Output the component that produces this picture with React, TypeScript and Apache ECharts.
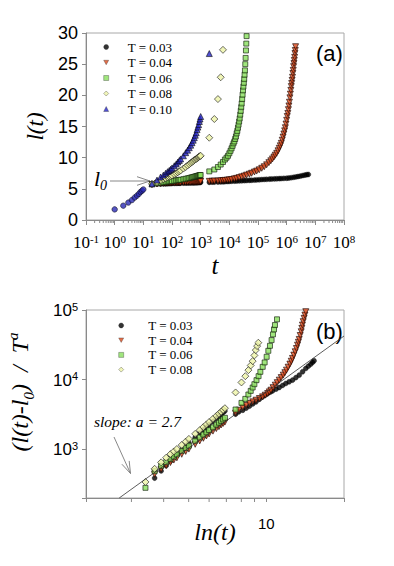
import React, { useEffect, useRef } from 'react';
import * as echarts from 'echarts';

const SERIF = '"Liberation Serif", "Times New Roman", serif';
const SANS = '"Liberation Sans", Arial, Helvetica, sans-serif';

// ---------------- Legend names ----------------
const namesA = ['T = 0.03', 'T = 0.04', 'T = 0.06', 'T = 0.08', 'T = 0.10'];
const namesB = ['T = 0.03', 'T = 0.04', 'T = 0.06', 'T = 0.08'];

// ---------------- Panel (a): l(t) vs t ----------------
const tEarly = [1, 2, 3, 4, 5, 6, 7, 8, 9, 10];
const lEarly = [1.7, 2.3, 2.8, 3.2, 3.6, 3.9, 4.2, 4.5, 4.7, 4.9];

const tDense = [20, 30, 40, 50, 60, 70, 80, 90, 100, 120, 140, 160, 180, 200, 250, 300, 350, 400, 450, 500, 550, 600, 650, 700, 750, 800, 850, 900, 950, 1000];
const lDense03 = [5.7, 5.75, 5.78, 5.8, 5.82, 5.83, 5.84, 5.85, 5.86, 5.87, 5.88, 5.89, 5.9, 5.91, 5.92, 5.93, 5.94, 5.95, 5.96, 5.97, 5.97, 5.98, 5.99, 6.0, 6.0, 6.01, 6.02, 6.03, 6.04, 6.05];
const lDense04 = [5.7, 5.8, 5.85, 5.88, 5.9, 5.92, 5.93, 5.95, 5.96, 5.98, 6.0, 6.01, 6.02, 6.03, 6.05, 6.07, 6.09, 6.1, 6.11, 6.12, 6.13, 6.14, 6.15, 6.16, 6.17, 6.18, 6.18, 6.19, 6.2, 6.2];
const lDense06 = [5.75, 5.9, 6.0, 6.05, 6.1, 6.15, 6.2, 6.22, 6.25, 6.3, 6.35, 6.4, 6.43, 6.46, 6.55, 6.62, 6.68, 6.74, 6.8, 6.85, 6.9, 6.94, 6.98, 7.02, 7.06, 7.1, 7.13, 7.16, 7.19, 7.22];
const lDense08 = [5.8, 6.1, 6.35, 6.55, 6.7, 6.85, 6.95, 7.05, 7.15, 7.35, 7.5, 7.65, 7.8, 7.95, 8.25, 8.5, 8.75, 8.95, 9.15, 9.3, 9.45, 9.6, 9.7, 9.8, 9.9, 10.0, 10.1, 10.2, 10.25, 10.3];
const lDense10 = [5.8, 6.4, 6.9, 7.2, 7.5, 7.75, 7.95, 8.15, 8.35, 8.7, 9.0, 9.3, 9.55, 9.8, 10.3, 10.8, 11.2, 11.6, 12.0, 12.4, 12.8, 13.2, 13.6, 14.0, 14.5, 14.9, 15.3, 15.8, 16.2, 16.6];

const tLate03 = [2000, 2500, 3000, 4000, 5000, 6000, 7000, 8500, 10000, 12000, 15000, 18000, 22000, 27000, 33000, 40000, 50000, 60000, 75000, 90000, 110000, 135000, 165000, 200000, 250000, 300000, 370000, 450000, 550000, 650000, 800000, 1000000, 1200000, 1450000, 1750000, 2100000, 2500000, 3000000, 3600000, 4300000, 5000000, 5700000];
const lLate03 = [6.05, 6.07, 6.08, 6.1, 6.12, 6.13, 6.15, 6.17, 6.2, 6.22, 6.24, 6.26, 6.28, 6.3, 6.32, 6.34, 6.36, 6.38, 6.41, 6.43, 6.46, 6.49, 6.51, 6.53, 6.56, 6.58, 6.6, 6.62, 6.64, 6.65, 6.68, 6.7, 6.74, 6.79, 6.85, 6.91, 6.98, 7.05, 7.13, 7.2, 7.27, 7.3];

const tLate04 = [2000, 2500, 3000, 4000, 5000, 6000, 7000, 8500, 10000, 12000, 15000, 18000, 22000, 27000, 33000, 40000, 50000, 60000, 75000, 90000, 110000, 135000, 165000, 200000, 240000, 280000, 320000, 360000, 400000, 450000, 500000, 550000, 600000, 650000, 700000, 750000, 800000, 850000, 900000, 950000, 1000000, 1050000, 1100000, 1150000, 1200000, 1250000, 1300000, 1350000, 1400000, 1450000, 1500000, 1550000, 1600000, 1650000, 1700000, 1750000, 1800000, 1850000, 1900000, 1950000, 2000000, 2050000];
const lLate04 = [6.2, 6.22, 6.25, 6.27, 6.3, 6.33, 6.36, 6.4, 6.45, 6.5, 6.6, 6.68, 6.8, 6.92, 7.05, 7.2, 7.35, 7.5, 7.7, 7.85, 8.05, 8.3, 8.55, 8.85, 9.2, 9.5, 9.8, 10.1, 10.4, 10.7, 11.1, 11.5, 11.9, 12.3, 12.8, 13.3, 13.8, 14.3, 14.8, 15.4, 16.0, 16.6, 17.1, 17.7, 18.3, 18.9, 19.6, 20.2, 20.8, 21.4, 21.9, 22.4, 22.9, 23.5, 24.0, 24.6, 25.1, 25.6, 26.1, 26.7, 27.2, 27.8];

const tLate06 = [2000, 3000, 4000, 5000, 6000, 7000, 8000, 9000, 10000, 11000, 12000, 13000, 14000, 15000, 16000, 17000, 18000, 19000, 20000, 21000, 22000, 23000, 24000, 25000, 26000, 27000, 28000, 29000, 30000, 31000, 32000, 33000, 34000, 35000, 36000, 37000, 38000, 39000, 40000];
const lLate06 = [7.8, 8.1, 8.5, 8.9, 9.3, 9.7, 10.0, 10.3, 10.7, 11.1, 11.5, 11.9, 12.3, 12.6, 13.0, 13.4, 13.9, 14.3, 14.8, 15.3, 15.8, 16.3, 16.9, 17.5, 18.1, 18.7, 19.4, 20.1, 20.8, 21.4, 22.0, 22.6, 23.3, 24.0, 25.0, 26.0, 27.2, 28.3, 29.5];

const tLate08 = [2000, 3000, 4000, 5000, 6000];
const lLate08 = [13.2, 16.2, 19.4, 22.9, 27.3];

const tLate10 = [2000];
const lLate10 = [26.7];

// ---------------- Panel (b): (l(t)-l0)/T^a vs ln(t) ----------------
const xDenseB = [3.40, 3.69, 3.91, 4.09, 4.25, 4.38, 4.50, 4.70, 4.87, 5.01, 5.30, 5.52, 5.70, 5.86, 6.00, 6.21, 6.40, 6.55, 6.68, 6.80, 6.91];
const xDenseB2 = [3.69, 3.91, 4.09, 4.25, 4.38, 4.50, 4.70, 4.87, 5.01, 5.30, 5.52, 5.70, 5.86, 6.00, 6.21, 6.40, 6.55, 6.68, 6.80, 6.91];
const yDense08 = [340, 525, 650, 758, 853, 932, 1010, 1155, 1289, 1411, 1667, 1886, 2086, 2278, 2462, 2736, 3008, 3243, 3463, 3680, 3891];
const yDense06 = [280, 485, 578, 653, 724, 785, 845, 951, 1046, 1129, 1327, 1480, 1629, 1754, 1887, 2070, 2265, 2412, 2565, 2691, 2834];
const yDense04 = [437, 516, 583, 646, 701, 754, 849, 934, 1008, 1180, 1320, 1440, 1555, 1660, 1825, 1985, 2115, 2235, 2350, 2460];
const yDense03 = [386, 490, 583, 678, 771, 852, 985, 1121, 1240, 1479, 1703, 1901, 2078, 2248, 2502, 2754, 2973, 3178, 3358, 3555];

const xLate08B = [7.60, 8.01, 8.29, 8.52, 8.70, 8.85, 8.99, 9.10, 9.21, 9.31];
const yLate08B = [6550, 9120, 11220, 13700, 16000, 18450, 22300, 26550, 30300, 33900];

const xLate06B = [7.60, 8.01, 8.29, 8.52, 8.70, 8.85, 8.99, 9.16, 9.33, 9.48, 9.68, 9.85, 10.03, 10.18, 10.33, 10.48, 10.61, 10.71, 10.80, 11.0];
const yLate06B = [3725, 4640, 5300, 6120, 6900, 7720, 8610, 9840, 11230, 12950, 15280, 17660, 21280, 25960, 30620, 36980, 44660, 52700, 60800, 73500];

const xLate04B = [7.6, 7.82, 8.10, 8.35, 8.60, 8.86, 9.12, 9.40, 9.67, 9.90, 10.12, 10.27, 10.42, 10.62, 10.83, 11.02, 11.22, 11.42, 11.63, 11.80, 11.97, 12.15, 12.34, 12.49, 12.63, 12.78, 12.94, 13.08, 13.21, 13.31, 13.41, 13.53, 13.65, 13.73, 13.80, 13.90, 14.01, 14.11, 14.22];
const yLate04B = [3300, 3640, 3980, 4250, 4540, 4800, 5070, 5360, 5660, 5990, 6330, 6680, 7060, 7680, 8340, 9060, 9840, 10700, 11610, 12600, 13700, 15100, 16720, 18400, 20170, 22500, 25120, 28000, 31300, 34400, 37830, 43000, 48700, 54500, 60800, 68000, 75900, 84500, 94600];

const xLate03B = [7.6, 7.82, 8.10, 8.35, 8.60, 8.86, 9.12, 9.40, 9.67, 9.90, 10.12, 10.35, 10.57, 10.90, 11.22, 11.56, 11.90, 12.26, 12.63, 13.02, 13.41, 13.82, 14.22, 14.55, 14.87, 15.1, 15.31];
const yLate03B = [3200, 3450, 3640, 3900, 4160, 4480, 4800, 5230, 5660, 6000, 6330, 6620, 6900, 7300, 7720, 8270, 8820, 9330, 9840, 10700, 11610, 13000, 14490, 15600, 16720, 17700, 18660];

// slope a = 2.7 reference line endpoints
const slopeX = [2.69, 20];
const slopeY = [200, 42300];

// ---------------- helpers ----------------
const zip = (xs: number[], ys: number[]) => xs.map((x, i) => [x, ys[i]]);

const STY: Record<string, any> = {
  'T = 0.03': { symbol: 'circle', legendIcon: 'circle', symbolSize: 5, symbolRotate: 0, itemStyle: { color: '#000000', borderColor: '#000', borderWidth: 0.4 } },
  'T = 0.04': { symbol: 'triangle', legendIcon: 'path://M0,0L10,0L5,9Z', symbolSize: 6, symbolRotate: 180, itemStyle: { color: '#dc4a1c', borderColor: '#1a0500', borderWidth: 0.8 } },
  'T = 0.06': { symbol: 'rect', legendIcon: 'rect', symbolSize: 5, symbolRotate: 0, itemStyle: { color: '#88e05c', borderColor: '#0c1a06', borderWidth: 0.8 } },
  'T = 0.08': { symbol: 'diamond', legendIcon: 'diamond', symbolSize: 7, symbolRotate: 0, itemStyle: { color: '#edf4a6', borderColor: '#1a1a1a', borderWidth: 0.8 } },
  'T = 0.10': { symbol: 'triangle', legendIcon: 'triangle', symbolSize: 6, symbolRotate: 0, itemStyle: { color: '#2626c8', borderColor: '#000', borderWidth: 0.7 } },
};

const sc = (name: string, data: number[][], grid: number) => {
  const sty = STY[name];
  return {
    type: 'scatter',
    name,
    xAxisIndex: grid,
    yAxisIndex: grid,
    data,
    symbol: sty.symbol,
    symbolSize: sty.symbolSize,
    symbolRotate: sty.symbolRotate,
    itemStyle: sty.itemStyle,
    silent: true,
    clip: true,
  };
};

const axisGray = '#8a8a8a';

function buildOption(): any {
  const supRich = (font: string, size: number) => ({
    b: { fontFamily: font, fontSize: size, color: '#000', verticalAlign: 'bottom' },
    s: { fontFamily: font, fontSize: Math.round(size * 0.64), color: '#000', verticalAlign: 'bottom', padding: [0, 0, 7, 0] },
  });
  const legendText = (lh: number, pad: number) => ({
    fontFamily: SERIF, fontSize: 13, color: '#000', lineHeight: lh, padding: [0, 0, 0, pad],
  });
  const legendData = (names: string[]) =>
    names.map((n) => ({
      name: n,
      icon: STY[n].legendIcon,
      itemStyle: { color: STY[n].itemStyle.color, borderColor: '#222', borderWidth: 0.4 },
    }));
  const mT = { fontFamily: SERIF, fontStyle: 'italic', fontSize: 24, color: '#000', verticalAlign: 'bottom' };
  return {
    animation: false,
    backgroundColor: '#ffffff',
    grid: [
      { left: 86, top: 33, width: 258, height: 187, show: true, borderColor: '#a8a8a8', borderWidth: 1, outerBoundsMode: 'none', containLabel: false },
      { left: 86, top: 310, width: 258, height: 188, show: true, borderColor: '#a8a8a8', borderWidth: 1, outerBoundsMode: 'none', containLabel: false },
    ],
    xAxis: [
      {
        type: 'log', gridIndex: 0, logBase: 10, min: 0.1, max: 1e8,
        axisLine: { show: true, lineStyle: { color: axisGray } },
        axisTick: { show: true, length: 5, lineStyle: { color: axisGray } },
        splitLine: { show: false },
        axisLabel: {
          margin: 13,
          formatter: (v: number) => `{b|10}{s|${Math.round(Math.log10(v))}}`,
          rich: supRich(SERIF, 17),
        },
        name: 't', nameLocation: 'middle', nameGap: 33, nameMoveOverlap: false,
        nameTextStyle: { fontFamily: SERIF, fontStyle: 'italic', fontSize: 25, color: '#000' },
      },
      {
        type: 'log', gridIndex: 1, logBase: 10, min: 2, max: 20,
        axisLine: { show: true, lineStyle: { color: axisGray } },
        axisTick: { show: true, length: 4, lineStyle: { color: axisGray } },
        splitLine: { show: false },
        axisLabel: {
          margin: 18, fontFamily: SANS, fontSize: 15, color: '#000',
          formatter: (v: number) => (Math.abs(v - 10) < 1e-6 ? '10' : ''),
        },
        name: 'ln(t)', nameLocation: 'middle', nameGap: 22, nameMoveOverlap: false,
        nameTextStyle: { fontFamily: SERIF, fontStyle: 'italic', fontSize: 24, color: '#000' },
      },
    ],
    yAxis: [
      {
        type: 'value', gridIndex: 0, min: 0, max: 30, interval: 5,
        axisLine: { show: true, lineStyle: { color: axisGray } },
        axisTick: { show: true, length: 4, lineStyle: { color: axisGray } },
        splitLine: { show: false },
        axisLabel: { margin: 8, fontFamily: SANS, fontSize: 18, color: '#000' },
        name: 'l(t)', nameLocation: 'middle', nameRotate: 90, nameGap: 39, nameMoveOverlap: false,
        nameTextStyle: { fontFamily: SERIF, fontStyle: 'italic', fontSize: 23, color: '#000' },
      },
      {
        type: 'log', gridIndex: 1, logBase: 10, min: 200, max: 1e5,
        axisLine: { show: true, lineStyle: { color: axisGray } },
        axisTick: { show: true, length: 4, lineStyle: { color: axisGray } },
        splitLine: { show: false },
        axisLabel: {
          margin: 8,
          formatter: (v: number) => {
            const e = Math.log10(v);
            return Math.abs(e - Math.round(e)) < 1e-6 ? `{b|10}{s|${Math.round(e)}}` : '';
          },
          rich: supRich(SANS, 17),
        },
        name: '{f|(}{m|l(t)-l}{sub|0}{m|)  /  T}{sup|a}', nameLocation: 'middle', nameRotate: 90, nameGap: 50,
        nameMoveOverlap: false,
        nameTextStyle: {
          fontFamily: SERIF, fontStyle: 'italic', fontSize: 24, color: '#000',
          rich: {
            f: { ...mT, padding: [0, 0, 4, 24] },
            m: { ...mT, padding: [0, 0, 4, 0] },
            sub: { ...mT, fontSize: 15, padding: [0, 0, 0, 0] },
            sup: { ...mT, fontSize: 15, padding: [0, 0, 16, 0] },
          },
        },
      },
    ],
    legend: [
      {
        orient: 'vertical', left: 103.5, top: 39.5, padding: 0,
        itemWidth: 5, itemHeight: 5, itemGap: 0.5, selectedMode: false, symbolKeepAspect: true,
        data: legendData(namesA),
        textStyle: legendText(15, 14),
      },
      {
        orient: 'vertical', left: 118.5, top: 318.5, padding: 0,
        itemWidth: 5, itemHeight: 5, itemGap: 0.7, selectedMode: false, symbolKeepAspect: true,
        data: legendData(namesB),
        textStyle: legendText(14, 19.5),
      },
    ],
    series: [
      // panel (a)
      sc('T = 0.03', zip(tDense, lDense03).concat(zip(tLate03, lLate03)), 0),
      sc('T = 0.04', zip(tDense, lDense04).concat(zip(tLate04, lLate04)), 0),
      sc('T = 0.06', zip(tDense, lDense06).concat(zip(tLate06, lLate06)), 0),
      sc('T = 0.08', zip(tDense, lDense08).concat(zip(tLate08, lLate08)), 0),
      sc('T = 0.10', zip(tDense, lDense10).concat(zip(tLate10, lLate10)), 0),
      {
        type: 'scatter', name: 'early', xAxisIndex: 0, yAxisIndex: 0, data: zip(tEarly, lEarly),
        symbol: 'circle', symbolSize: 5.5, itemStyle: { color: '#2a2ab4', borderColor: '#000', borderWidth: 0.6 }, silent: true,
      },
      // panel (b)
      {
        type: 'line', name: 'slope', xAxisIndex: 1, yAxisIndex: 1, data: zip(slopeX, slopeY),
        showSymbol: false, symbol: 'none', lineStyle: { color: '#333', width: 0.8 }, silent: true, clip: true,
      },
      sc('T = 0.03', zip(xDenseB2, yDense03).concat(zip(xLate03B, yLate03B)), 1),
      sc('T = 0.04', zip(xDenseB2, yDense04).concat(zip(xLate04B, yLate04B)), 1),
      sc('T = 0.06', zip(xDenseB, yDense06).concat(zip(xLate06B, yLate06B)), 1),
      sc('T = 0.08', zip(xDenseB, yDense08).concat(zip(xLate08B, yLate08B)), 1),
    ],
  };
}

function arrow(x1: number, y1: number, x2: number, y2: number, head: number, half: number) {
  const dx = x2 - x1, dy = y2 - y1;
  const len = Math.sqrt(dx * dx + dy * dy);
  const ux = dx / len, uy = dy / len;
  const bx = x2 - ux * head, by = y2 - uy * head;
  const px = -uy * half, py = ux * half;
  const st = { stroke: '#7a7a7a', lineWidth: 0.9, fill: 'none' };
  return [
    { type: 'line', silent: true, shape: { x1, y1, x2, y2 }, style: st },
    { type: 'polyline', silent: true, shape: { points: [[bx + px, by + py], [x2, y2], [bx - px, by - py]] }, style: st },
  ];
}

function buildGraphics(chart: any): any[] {
  const g: any[] = [];
  const tickStyle = { stroke: axisGray, lineWidth: 1 };
  // minor ticks, panel (a) x axis
  const yA = chart.convertToPixel({ yAxisIndex: 0 }, 0);
  for (let n = -1; n <= 7; n++) {
    for (let k = 2; k <= 9; k++) {
      const x = chart.convertToPixel({ xAxisIndex: 0 }, k * Math.pow(10, n));
      g.push({ type: 'line', silent: true, shape: { x1: x, y1: yA, x2: x, y2: yA + 3 }, style: tickStyle });
    }
  }
  // minor ticks, panel (b) x axis
  const yB = chart.convertToPixel({ yAxisIndex: 1 }, 200);
  for (let k = 3; k <= 9; k++) {
    const x = chart.convertToPixel({ xAxisIndex: 1 }, k);
    g.push({ type: 'line', silent: true, shape: { x1: x, y1: yB, x2: x, y2: yB + 4 }, style: tickStyle });
  }
  // annotations
  g.push({ type: 'text', silent: true, style: { x: 316, y: 53, text: '(a)', font: `22px ${SANS}`, fill: '#000', verticalAlign: 'middle', align: 'left' } });
  g.push({ type: 'text', silent: true, style: { x: 316, y: 331, text: '(b)', font: `22px ${SANS}`, fill: '#000', verticalAlign: 'middle', align: 'left' } });
  g.push({ type: 'text', silent: true, style: { x: 94, y: 178, text: 'l', font: `italic 22px ${SERIF}`, fill: '#000', verticalAlign: 'middle', align: 'left' } });
  g.push({ type: 'text', silent: true, style: { x: 100, y: 185, text: '0', font: `italic 14px ${SERIF}`, fill: '#000', verticalAlign: 'middle', align: 'left' } });
  g.push(...arrow(110, 181, 150, 181, 13, 4.3));
  g.push({ type: 'text', silent: true, style: { x: 94, y: 421, text: 'slope: a = 2.7', font: `italic 15.5px ${SERIF}`, fill: '#000', verticalAlign: 'middle', align: 'left' } });
  g.push(...arrow(114, 437, 130.5, 473.5, 12, 4));
  return g;
}

export default function App() {
  const ref = useRef<HTMLDivElement>(null);
  useEffect(() => {
    const el = ref.current;
    if (!el) return;
    const chart = echarts.init(el, null, { renderer: 'svg' });
    chart.setOption(buildOption());
    chart.setOption({ graphic: buildGraphics(chart) });
    return () => chart.dispose();
  }, []);
  return (
    <div
      ref={ref}
      style={{ position: 'fixed', left: 0, top: 0, width: 394, height: 566, background: '#fff' }}
    />
  );
}
